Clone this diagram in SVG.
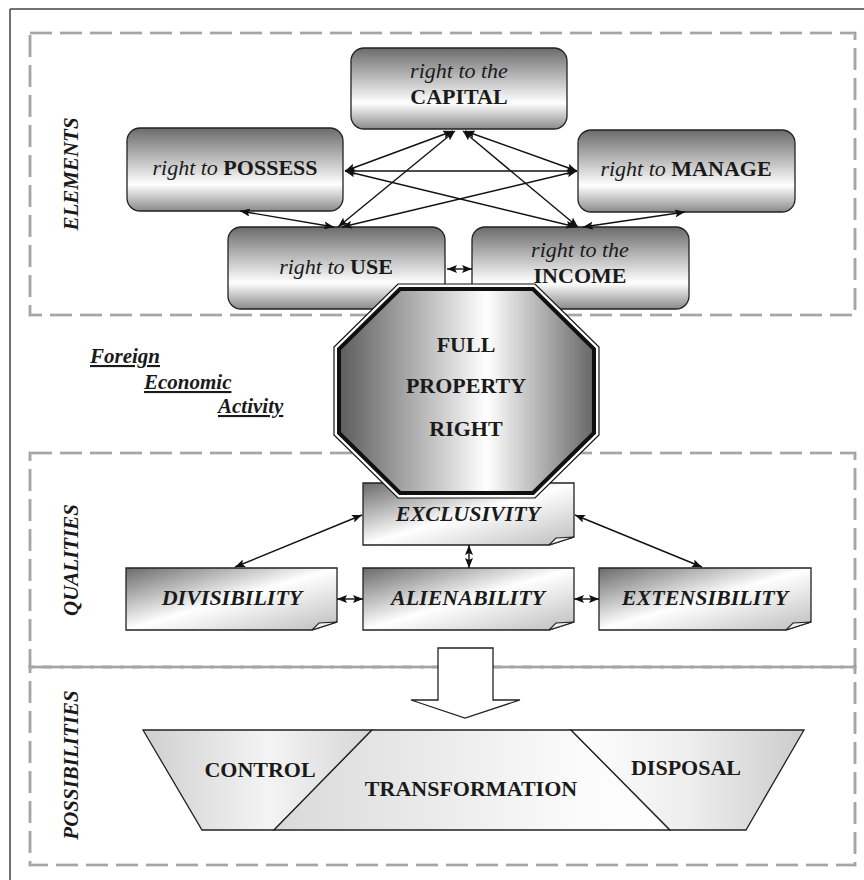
<svg xmlns="http://www.w3.org/2000/svg" width="864" height="880" viewBox="0 0 864 880">
<defs>
<style>
.frame{fill:none;stroke:#444;stroke-width:1.5}
.dash{fill:none;stroke:#808080;stroke-width:2.6;stroke-dasharray:22 8}
.dashin{fill:none;stroke:#fff;stroke-width:0.6;stroke-dasharray:22 8}
.rnode{fill:url(#gV);stroke:#222;stroke-width:1.3}
.note{fill:url(#gD);stroke:#222;stroke-width:1.3}
.fold{fill:#f2f2f2;stroke:#222;stroke-width:1.1}
.conn{fill:none;stroke:#111;stroke-width:1.4;marker-start:url(#ah);marker-end:url(#ah)}
.t{font-family:"Liberation Serif","Times New Roman",serif;font-size:22px;fill:#1a1a1a;text-anchor:middle}
.i{font-style:italic;font-weight:normal}
.b{font-weight:bold}
.bi{font-weight:bold;font-style:italic}
.side{font-family:"Liberation Serif","Times New Roman",serif;font-size:21px;font-weight:bold;font-style:italic;fill:#1a1a1a;text-anchor:middle}
.fea{font-family:"Liberation Serif","Times New Roman",serif;font-size:21px;font-weight:bold;font-style:italic;fill:#1a1a1a;text-decoration:underline}
.trap{stroke:#222;stroke-width:1.3}
</style>
<linearGradient id="gV" x1="0" y1="0" x2="0" y2="1">
<stop offset="0" stop-color="#6b6b6b"/>
<stop offset="0.68" stop-color="#ffffff"/>
<stop offset="1" stop-color="#8a8a8a"/>
</linearGradient>
<linearGradient id="gH" x1="0" y1="0" x2="1" y2="0">
<stop offset="0" stop-color="#5c5c5c"/>
<stop offset="0.58" stop-color="#ffffff"/>
<stop offset="1" stop-color="#666"/>
</linearGradient>
<linearGradient id="gD" x1="0" y1="0" x2="1" y2="1">
<stop offset="0" stop-color="#6a6a6a"/>
<stop offset="0.5" stop-color="#ffffff"/>
<stop offset="1" stop-color="#bdbdbd"/>
</linearGradient>
<linearGradient id="gC" x1="0" y1="0" x2="1" y2="0">
<stop offset="0" stop-color="#cfcfcf"/>
<stop offset="0.55" stop-color="#f4f4f4"/>
<stop offset="1" stop-color="#d6d6d6"/>
</linearGradient>
<linearGradient id="gT" x1="0" y1="0" x2="1" y2="0">
<stop offset="0" stop-color="#d9d9d9"/>
<stop offset="0.75" stop-color="#fafafa"/>
<stop offset="1" stop-color="#ffffff"/>
</linearGradient>
<linearGradient id="gP" x1="0" y1="0" x2="1" y2="0">
<stop offset="0" stop-color="#ffffff"/>
<stop offset="0.5" stop-color="#eeeeee"/>
<stop offset="1" stop-color="#cccccc"/>
</linearGradient>
<marker id="ah" viewBox="0 0 10 8" refX="10" refY="4" markerWidth="10" markerHeight="8" markerUnits="userSpaceOnUse" orient="auto-start-reverse">
<path d="M0,0 L10,4 L0,8 L2,4 Z" fill="#111"/>
</marker>
</defs>

<g id="frame">
<line class="frame" x1="10" y1="9" x2="864" y2="9"/>
<line class="frame" x1="10" y1="9" x2="10" y2="880"/>
</g>

<g id="zones">
<rect class="dash" x="30" y="33" width="825" height="282"/>
<rect class="dashin" x="30" y="33" width="825" height="282"/>
<rect class="dash" x="30" y="453" width="825" height="214"/>
<rect class="dashin" x="30" y="453" width="825" height="214"/>
<rect class="dash" x="30" y="667" width="825" height="198"/>
<rect class="dashin" x="30" y="667" width="825" height="198"/>
<text class="side" transform="translate(78,174) rotate(-90)">ELEMENTS</text>
<text class="side" transform="translate(78,560) rotate(-90)">QUALITIES</text>
<text class="side" transform="translate(78,765) rotate(-90)">POSSIBILITIES</text>
</g>

<g id="capital">
<rect class="rnode" x="351" y="48" width="216" height="81" rx="13"/>
<text class="t i" x="459" y="78">right to the</text>
<text class="t b" x="459" y="104">CAPITAL</text>
</g>
<g id="possess">
<rect class="rnode" x="127" y="128" width="216" height="83" rx="13"/>
<text class="t" x="235" y="175"><tspan class="i">right to </tspan><tspan class="b">POSSESS</tspan></text>
</g>
<g id="manage">
<rect class="rnode" x="578" y="130" width="217" height="82" rx="13"/>
<text class="t" x="686" y="176"><tspan class="i">right to </tspan><tspan class="b">MANAGE</tspan></text>
</g>
<g id="use">
<rect class="rnode" x="228" y="227" width="217" height="82" rx="13"/>
<text class="t" x="336" y="274"><tspan class="i">right to </tspan><tspan class="b">USE</tspan></text>
</g>
<g id="income">
<rect class="rnode" x="472" y="227" width="217" height="82" rx="13"/>
<text class="t i" x="580" y="257">right to the</text>
<text class="t b" x="580" y="283">INCOME</text>
</g>

<g id="exclusivity">
<path class="note" d="M363,483 H574 V537 L549,545 H363 Z"/>
<path class="fold" d="M549,545 L556,538 L574,537 Z"/>
<text class="t bi" x="468" y="521">EXCLUSIVITY</text>
</g>
<g id="divisibility">
<path class="note" d="M126,568 H337 V622 L312,630 H126 Z"/>
<path class="fold" d="M312,630 L319,623 L337,622 Z"/>
<text class="t bi" x="232" y="605">DIVISIBILITY</text>
</g>
<g id="alienability">
<path class="note" d="M363,568 H574 V622 L549,630 H363 Z"/>
<path class="fold" d="M549,630 L556,623 L574,622 Z"/>
<text class="t bi" x="468" y="605">ALIENABILITY</text>
</g>
<g id="extensibility">
<path class="note" d="M599,568 H811 V622 L786,630 H599 Z"/>
<path class="fold" d="M786,630 L793,623 L811,622 Z"/>
<text class="t bi" x="705" y="605">EXTENSIBILITY</text>
</g>

<g id="connectors">
<line class="conn" x1="453" y1="131" x2="345" y2="171"/>
<line class="conn" x1="455" y1="131" x2="338" y2="227"/>
<line class="conn" x1="465" y1="131" x2="577" y2="171"/>
<line class="conn" x1="463" y1="131" x2="578" y2="227"/>
<line class="conn" x1="345" y1="171" x2="577" y2="171"/>
<line class="conn" x1="345" y1="171" x2="576" y2="227"/>
<line class="conn" x1="577" y1="171" x2="342" y2="227"/>
<line class="conn" x1="240" y1="211" x2="334" y2="227"/>
<line class="conn" x1="685" y1="212" x2="583" y2="227"/>
<line class="conn" x1="447" y1="269" x2="472" y2="269"/>
<line class="conn" x1="362" y1="515" x2="235" y2="567"/>
<line class="conn" x1="575" y1="515" x2="702" y2="567"/>
<line class="conn" x1="469" y1="545" x2="469" y2="568"/>
<line class="conn" x1="337" y1="599" x2="363" y2="599"/>
<line class="conn" x1="574" y1="599" x2="599" y2="599"/>
</g>

<g id="full-property-right">
<polygon points="398,284 535,284 599,347 599,435 535,498 398,498 334,435 334,347" fill="#fff" stroke="#111" stroke-width="1.2"/>
<polygon points="400,289 533,289 594,349 594,433 533,493 400,493 339,433 339,349" fill="url(#gH)" stroke="#111" stroke-width="4"/>
<text class="t b" x="466" y="352">FULL</text>
<text class="t b" x="466" y="393">PROPERTY</text>
<text class="t b" x="466" y="436">RIGHT</text>
</g>

<g id="foreign-economic-activity">
<text class="fea" x="90" y="363">Foreign</text>
<text class="fea" x="144" y="389">Economic</text>
<text class="fea" x="218" y="413">Activity</text>
</g>

<g id="block-arrow">
<path d="M438,648 H493 V700 H520 L465,718 L411,700 H438 Z" fill="#fff" stroke="#222" stroke-width="1.3"/>
</g>

<g id="control">
<path class="trap" d="M143,730 H372 L274,830 H202 Z" fill="url(#gC)"/>
<text class="t b" x="260" y="777">CONTROL</text>
</g>
<g id="transformation">
<path class="trap" d="M372,730 H571 L670,830 H274 Z" fill="url(#gT)"/>
<text class="t b" x="471" y="796">TRANSFORMATION</text>
</g>
<g id="disposal">
<path class="trap" d="M571,730 H804 L746,830 H670 Z" fill="url(#gP)"/>
<text class="t b" x="686" y="775">DISPOSAL</text>
</g>
</svg>
